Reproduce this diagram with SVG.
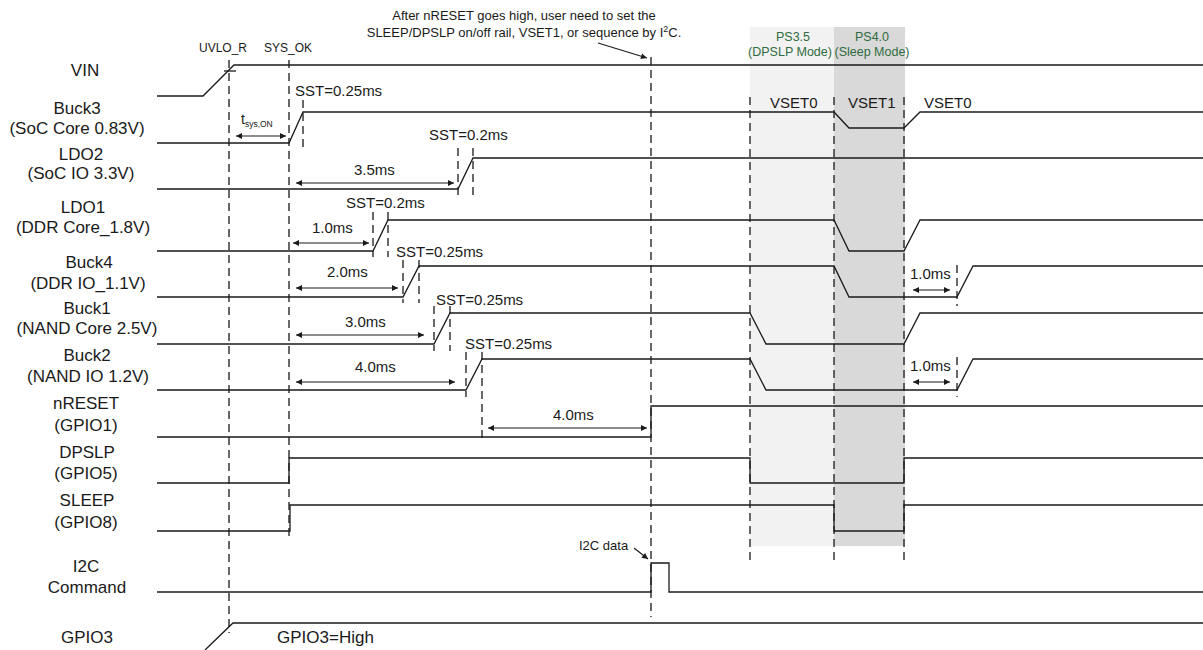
<svg xmlns="http://www.w3.org/2000/svg" width="1203" height="650" viewBox="0 0 1203 650">
<style>
.sig{fill:none;stroke:#1a1a1a;stroke-width:1.3}
.dash{fill:none;stroke:#1a1a1a;stroke-width:1.3;stroke-dasharray:8 5}
.arr{fill:none;stroke:#1a1a1a;stroke-width:1.1;marker-start:url(#ah);marker-end:url(#ah)}
.arr1{fill:none;stroke:#1a1a1a;stroke-width:1.1;marker-end:url(#ah)}
.lbl{font-family:"Liberation Sans",Arial,sans-serif;font-size:17px;fill:#1a1a1a;text-anchor:middle}
.t{font-family:"Liberation Sans",Arial,sans-serif;font-size:15px;fill:#1a1a1a}
.s{font-family:"Liberation Sans",Arial,sans-serif;font-size:12px;fill:#1a1a1a}
.g{font-family:"Liberation Sans",Arial,sans-serif;font-size:12.5px;fill:#2f6b40;text-anchor:middle}
</style>
<defs>
<marker id="ah" viewBox="0 0 10 10" refX="10" refY="5" markerWidth="7" markerHeight="6" markerUnits="userSpaceOnUse" orient="auto-start-reverse">
<path d="M0,0 L10,5 L0,10 z" fill="#1a1a1a"/>
</marker>
</defs>
<rect width="1203" height="650" fill="#ffffff"/>
<g id="shading">
<rect x="750" y="27" width="84" height="519" fill="#f2f2f2"/>
<rect x="834" y="27" width="71" height="519" fill="#d9d9d9"/>
<text class="g" x="793" y="41">PS3.5</text>
<text class="g" x="790" y="56">(DPSLP Mode)</text>
<text class="g" x="872" y="41">PS4.0</text>
<text class="g" x="872" y="56">(Sleep Mode)</text>
</g>
<g id="connectors">
<line class="dash" x1="229" y1="60" x2="229" y2="633"/>
<line class="dash" x1="289" y1="60" x2="289" y2="538"/>
<line class="dash" x1="651" y1="57" x2="651" y2="617"/>
<line class="dash" x1="750" y1="97" x2="750" y2="563"/>
<line class="dash" x1="834" y1="97" x2="834" y2="563"/>
<line class="dash" x1="904" y1="97" x2="904" y2="563"/>
<line class="dash" x1="303" y1="100" x2="303" y2="150"/>
<line class="dash" x1="458" y1="148" x2="458" y2="197"/>
<line class="dash" x1="473" y1="148" x2="473" y2="197"/>
<line class="dash" x1="373" y1="212" x2="373" y2="257"/>
<line class="dash" x1="388" y1="212" x2="388" y2="257"/>
<line class="dash" x1="403" y1="260" x2="403" y2="303"/>
<line class="dash" x1="419" y1="260" x2="419" y2="303"/>
<line class="dash" x1="434" y1="306" x2="434" y2="351"/>
<line class="dash" x1="450" y1="306" x2="450" y2="351"/>
<line class="dash" x1="466" y1="352" x2="466" y2="397"/>
<line class="dash" x1="482" y1="352" x2="482" y2="442"/>
<line class="dash" x1="957" y1="265" x2="957" y2="306"/>
<line class="dash" x1="957" y1="357" x2="957" y2="397"/>
<line class="arr" x1="236" y1="136" x2="286" y2="136"/>
<line class="arr" x1="296" y1="183" x2="454" y2="183"/>
<line class="arr" x1="293" y1="243" x2="369" y2="243"/>
<line class="arr" x1="296" y1="288" x2="398" y2="288"/>
<line class="arr" x1="296" y1="335" x2="424" y2="335"/>
<line class="arr" x1="296" y1="382" x2="455" y2="382"/>
<line class="arr" x1="488" y1="428" x2="647" y2="428"/>
<line class="arr" x1="913" y1="290" x2="950" y2="290"/>
<line class="arr" x1="913" y1="382" x2="950" y2="382"/>
<line class="arr1" x1="598" y1="43" x2="647" y2="58"/>
<line class="arr1" x1="634" y1="548" x2="648" y2="559"/>
</g>
<g id="annotations">
<text class="s" x="524" y="20" text-anchor="middle" style="font-size:13px">After nRESET goes high, user need to set the</text>
<text class="s" x="524" y="37" text-anchor="middle" style="font-size:13px">SLEEP/DPSLP on/off rail, VSET1, or sequence by I<tspan dy="-5" style="font-size:9px">2</tspan><tspan dy="5">C.</tspan></text>
<text class="s" x="223" y="52" text-anchor="middle">UVLO_R</text>
<text class="s" x="288" y="52" text-anchor="middle">SYS_OK</text>
<text class="t" x="295" y="96">SST=0.25ms</text>
<text class="t" x="429" y="140">SST=0.2ms</text>
<text class="t" x="346" y="208">SST=0.2ms</text>
<text class="t" x="396" y="257">SST=0.25ms</text>
<text class="t" x="436" y="305">SST=0.25ms</text>
<text class="t" x="465" y="349">SST=0.25ms</text>
<text class="s" x="241" y="124" style="font-size:14px">t<tspan dy="3" style="font-size:8.5px">sys,ON</tspan></text>
<text class="t" x="354" y="175">3.5ms</text>
<text class="t" x="312" y="233">1.0ms</text>
<text class="t" x="327" y="277">2.0ms</text>
<text class="t" x="345" y="327">3.0ms</text>
<text class="t" x="355" y="372">4.0ms</text>
<text class="t" x="553" y="420">4.0ms</text>
<text class="t" x="910" y="279">1.0ms</text>
<text class="t" x="910" y="371">1.0ms</text>
<text class="t" x="770" y="108">VSET0</text>
<text class="t" x="848" y="108">VSET1</text>
<text class="t" x="924" y="108">VSET0</text>
<text class="s" x="579" y="550" style="font-size:13px">I2C data</text>
<text class="t" x="277" y="643" style="font-size:17px">GPIO3=High</text>
</g>
<g id="VIN">
<text class="lbl" x="85" y="76">VIN</text>
<polyline class="sig" points="157,96 203,96 234,65 1203,65"/>
<line class="sig" x1="224" y1="71" x2="236" y2="71"/>
</g>
<g id="Buck3">
<text class="lbl" x="77" y="114">Buck3</text>
<text class="lbl" x="77" y="134">(SoC Core 0.83V)</text>
<polyline class="sig" points="157,143 289,143 303,112 834,112 849,128 904,128 920,112 1203,112"/>
</g>
<g id="LDO2">
<text class="lbl" x="81" y="160">LDO2</text>
<text class="lbl" x="81" y="179">(SoC IO 3.3V)</text>
<polyline class="sig" points="157,189 458,189 473,158 1203,158"/>
</g>
<g id="LDO1">
<text class="lbl" x="83" y="213">LDO1</text>
<text class="lbl" x="83" y="233">(DDR Core_1.8V)</text>
<polyline class="sig" points="157,251 373,251 388,220 834,220 849,251 904,251 920,220 1203,220"/>
</g>
<g id="Buck4">
<text class="lbl" x="89" y="268">Buck4</text>
<text class="lbl" x="88" y="289">(DDR IO_1.1V)</text>
<polyline class="sig" points="157,297 403,297 419,266 834,266 849,297 957,297 973,266 1203,266"/>
</g>
<g id="Buck1">
<text class="lbl" x="87" y="314">Buck1</text>
<text class="lbl" x="87" y="334">(NAND Core 2.5V)</text>
<polyline class="sig" points="157,344 434,344 450,313 750,313 766,344 904,344 920,313 1203,313"/>
</g>
<g id="Buck2">
<text class="lbl" x="87" y="361">Buck2</text>
<text class="lbl" x="88" y="382">(NAND IO 1.2V)</text>
<polyline class="sig" points="157,390 466,390 482,359 750,359 766,390 957,390 973,359 1203,359"/>
</g>
<g id="nRESET">
<text class="lbl" x="86" y="409">nRESET</text>
<text class="lbl" x="86" y="431">(GPIO1)</text>
<polyline class="sig" points="157,437 651,437 651,406 1203,406"/>
</g>
<g id="DPSLP">
<text class="lbl" x="87" y="458">DPSLP</text>
<text class="lbl" x="86" y="479">(GPIO5)</text>
<polyline class="sig" points="157,483 289,483 289,458 750,458 750,483 904,483 904,458 1203,458"/>
</g>
<g id="SLEEP">
<text class="lbl" x="87" y="506">SLEEP</text>
<text class="lbl" x="86" y="528">(GPIO8)</text>
<polyline class="sig" points="157,531 290,531 290,505 834,505 834,531 904,531 904,505 1203,505"/>
</g>
<g id="I2C">
<text class="lbl" x="86" y="572">I2C</text>
<text class="lbl" x="87" y="593">Command</text>
<polyline class="sig" points="157,592 651,592 651,563 669,563 669,592 1203,592"/>
</g>
<g id="GPIO3">
<text class="lbl" x="87" y="643">GPIO3</text>
<polyline class="sig" points="205,650 233,623 1203,623"/>
</g>
</svg>
